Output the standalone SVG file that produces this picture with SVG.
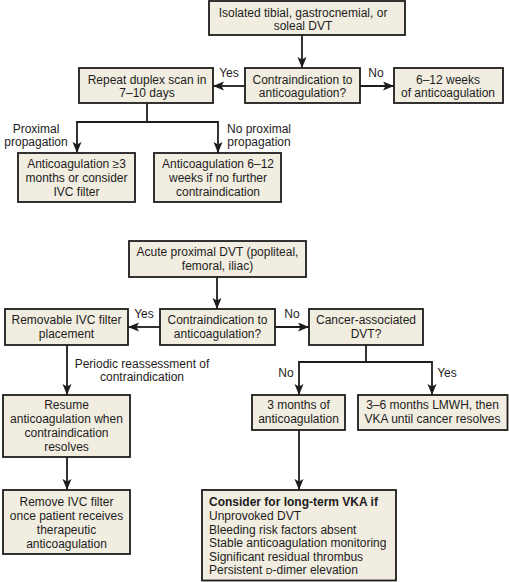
<svg xmlns="http://www.w3.org/2000/svg" width="509" height="582" viewBox="0 0 509 582">
<defs>
<style>
.box{fill:#f1eee1;stroke:#1e1c1c;stroke-width:1.8}
text{font-family:"Liberation Sans",Arial,sans-serif;font-size:12px;fill:#1e1c1c}
.c{text-anchor:middle}
.b{font-weight:bold}
.ln{fill:none;stroke:#1e1c1c;stroke-width:1.8}
</style>
<marker id="ah" markerUnits="userSpaceOnUse" markerWidth="12" markerHeight="10" refX="11" refY="4.5" orient="auto">
<path d="M0,0 L11,4.5 L0,9 L2.5,4.5 Z" fill="#1e1c1c"/>
</marker>
</defs>
<rect width="509" height="582" fill="#ffffff"/>
<g id="connectors">
<line class="ln" x1="302" y1="35" x2="302" y2="68" marker-end="url(#ah)"/>
<line class="ln" x1="245" y1="86" x2="213" y2="86" marker-end="url(#ah)"/>
<line class="ln" x1="360" y1="86" x2="394" y2="86" marker-end="url(#ah)"/>
<polyline class="ln" points="147,103 147,122 77,122 77,153" marker-end="url(#ah)"/>
<polyline class="ln" points="147,122 218,122 218,153" marker-end="url(#ah)"/>
<line class="ln" x1="217" y1="277" x2="217" y2="309" marker-end="url(#ah)"/>
<line class="ln" x1="160" y1="327" x2="128" y2="327" marker-end="url(#ah)"/>
<line class="ln" x1="275" y1="327" x2="309" y2="327" marker-end="url(#ah)"/>
<line class="ln" x1="67" y1="345" x2="67" y2="395" marker-end="url(#ah)"/>
<polyline class="ln" points="366,345 366,362 299,362 299,395" marker-end="url(#ah)"/>
<polyline class="ln" points="366,362 432,362 432,395" marker-end="url(#ah)"/>
<line class="ln" x1="67" y1="457" x2="67" y2="490" marker-end="url(#ah)"/>
<line class="ln" x1="299" y1="430" x2="299" y2="490" marker-end="url(#ah)"/>
<text x="229" y="77" class="c">Yes</text>
<text x="376" y="77" class="c">No</text>
<text x="36" y="132.5" class="c">Proximal</text>
<text x="36" y="146" class="c">propagation</text>
<text x="259" y="132.5" class="c">No proximal</text>
<text x="259" y="146" class="c">propagation</text>
<text x="144" y="318" class="c">Yes</text>
<text x="292" y="318" class="c">No</text>
<text x="142" y="367.5" class="c">Periodic reassessment of</text>
<text x="142" y="381" class="c">contraindication</text>
<text x="286" y="377" class="c">No</text>
<text x="447" y="377" class="c">Yes</text>
</g>
<g id="nA"><rect class="box" x="209" y="1" width="196" height="34"/>
<text x="303" y="17" class="c">Isolated tibial, gastrocnemial, or</text>
<text x="303" y="30" class="c">soleal DVT</text></g>
<g id="nB"><rect class="box" x="245" y="68" width="115" height="35"/>
<text x="302.5" y="84" class="c">Contraindication to</text>
<text x="302.5" y="97" class="c">anticoagulation?</text></g>
<g id="nC"><rect class="box" x="79" y="68" width="134" height="35"/>
<text x="147" y="84" class="c">Repeat duplex scan in</text>
<text x="147" y="97" class="c">7–10 days</text></g>
<g id="nD"><rect class="box" x="394" y="68" width="109" height="35"/>
<text x="448" y="84" class="c">6–12 weeks</text>
<text x="448" y="97" class="c">of anticoagulation</text></g>
<g id="nE"><rect class="box" x="18" y="153" width="117" height="49"/>
<text x="76.5" y="168" class="c">Anticoagulation ≥3</text>
<text x="76.5" y="181.5" class="c">months or consider</text>
<text x="76.5" y="195.5" class="c">IVC filter</text></g>
<g id="nF"><rect class="box" x="154" y="153" width="127" height="49"/>
<text x="218" y="168" class="c">Anticoagulation 6–12</text>
<text x="218" y="181.5" class="c">weeks if no further</text>
<text x="218" y="195.5" class="c">contraindication</text></g>
<g id="nG"><rect class="box" x="129" y="241" width="177" height="36"/>
<text x="217.5" y="256" class="c">Acute proximal DVT (popliteal,</text>
<text x="217.5" y="269.5" class="c">femoral, iliac)</text></g>
<g id="nH"><rect class="box" x="160" y="309" width="115" height="36"/>
<text x="217.5" y="324" class="c">Contraindication to</text>
<text x="217.5" y="338" class="c">anticoagulation?</text></g>
<g id="nI"><rect class="box" x="5" y="309" width="123" height="36"/>
<text x="66.5" y="324" class="c">Removable IVC filter</text>
<text x="66.5" y="338" class="c">placement</text></g>
<g id="nJ"><rect class="box" x="309" y="309" width="114" height="36"/>
<text x="366" y="324" class="c">Cancer-associated</text>
<text x="366" y="338" class="c">DVT?</text></g>
<g id="nK"><rect class="box" x="3" y="395" width="127" height="62"/>
<text x="66.5" y="409.3" class="c">Resume</text>
<text x="66.5" y="423.3" class="c">anticoagulation when</text>
<text x="66.5" y="437.3" class="c">contraindication</text>
<text x="66.5" y="451.3" class="c">resolves</text></g>
<g id="nL"><rect class="box" x="3" y="490" width="127" height="64"/>
<text x="66.5" y="506" class="c">Remove IVC filter</text>
<text x="66.5" y="520" class="c">once patient receives</text>
<text x="66.5" y="534" class="c">therapeutic</text>
<text x="66.5" y="548" class="c">anticoagulation</text></g>
<g id="nM"><rect class="box" x="252" y="395" width="93" height="35"/>
<text x="298.5" y="409.3" class="c">3 months of</text>
<text x="298.5" y="423.3" class="c">anticoagulation</text></g>
<g id="nN"><rect class="box" x="358" y="395" width="149.5" height="35"/>
<text x="432.5" y="409.3" class="c">3–6 months LMWH, then</text>
<text x="432.5" y="423.3" class="c">VKA until cancer resolves</text></g>
<g id="nO"><rect class="box" x="202" y="490" width="194" height="90.5"/>
<text x="209" y="506" class="b">Consider for long-term VKA if</text>
<text x="209" y="520">Unprovoked DVT</text>
<text x="209" y="533.5">Bleeding risk factors absent</text>
<text x="209" y="547.2">Stable anticoagulation monitoring</text>
<text x="209" y="560.8">Significant residual thrombus</text>
<text x="209" y="574.4">Persistent <tspan font-size="9.5">D</tspan>-dimer elevation</text></g>
</svg>
